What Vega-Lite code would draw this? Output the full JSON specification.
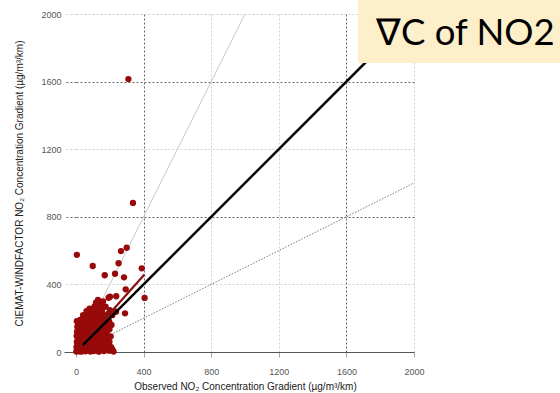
{
  "$schema": "https://vega.github.io/schema/vega-lite/v6.json",
  "width": 338,
  "height": 338,
  "autosize": "none",
  "padding": {"left": 76, "top": 14, "right": 146, "bottom": 41},
  "background": "white",
  "config": {"view": {"stroke": null}, "font": "Liberation Sans"},
  "datasets": {
    "points": [
      {"x": 310, "y": 1615}, {"x": 337, "y": 882}, {"x": 5, "y": 575}, {"x": 99, "y": 509},
      {"x": 300, "y": 617}, {"x": 266, "y": 597}, {"x": 252, "y": 525}, {"x": 170, "y": 454},
      {"x": 231, "y": 463}, {"x": 284, "y": 442}, {"x": 389, "y": 495}, {"x": 294, "y": 371},
      {"x": 406, "y": 320}, {"x": 201, "y": 327}, {"x": 238, "y": 330}, {"x": 290, "y": 229},
      {"x": 207, "y": 12}, {"x": 193, "y": 321}, {"x": 144, "y": 288}, {"x": 132, "y": 254},
      {"x": 237, "y": 238}, {"x": 168, "y": 91}, {"x": 187, "y": 130}, {"x": 142, "y": 53},
      {"x": 2, "y": 3}, {"x": 8, "y": 12}, {"x": 15, "y": 5}, {"x": 22, "y": 18}, {"x": 30, "y": 2},
      {"x": 38, "y": 10}, {"x": 45, "y": 20}, {"x": 55, "y": 4}, {"x": 62, "y": 15}, {"x": 70, "y": 8},
      {"x": 78, "y": 22}, {"x": 85, "y": 3}, {"x": 95, "y": 12}, {"x": 105, "y": 6}, {"x": 115, "y": 18},
      {"x": 125, "y": 9}, {"x": 135, "y": 2}, {"x": 150, "y": 14}, {"x": 165, "y": 6}, {"x": 180, "y": 20},
      {"x": 195, "y": 8}, {"x": 215, "y": 15}, {"x": 222, "y": 3},
      {"x": 3, "y": 30}, {"x": 10, "y": 45}, {"x": 18, "y": 28}, {"x": 26, "y": 40}, {"x": 35, "y": 33},
      {"x": 42, "y": 48}, {"x": 50, "y": 27}, {"x": 58, "y": 42}, {"x": 66, "y": 35}, {"x": 74, "y": 50},
      {"x": 82, "y": 30}, {"x": 90, "y": 44}, {"x": 98, "y": 38}, {"x": 108, "y": 26}, {"x": 118, "y": 47},
      {"x": 128, "y": 33}, {"x": 140, "y": 42}, {"x": 155, "y": 30}, {"x": 172, "y": 45}, {"x": 190, "y": 36},
      {"x": 208, "y": 28},
      {"x": 5, "y": 60}, {"x": 12, "y": 75}, {"x": 20, "y": 58}, {"x": 28, "y": 70}, {"x": 36, "y": 64},
      {"x": 44, "y": 80}, {"x": 52, "y": 57}, {"x": 60, "y": 72}, {"x": 68, "y": 62}, {"x": 76, "y": 78},
      {"x": 84, "y": 55}, {"x": 92, "y": 68}, {"x": 100, "y": 75}, {"x": 110, "y": 60}, {"x": 122, "y": 73},
      {"x": 134, "y": 58}, {"x": 148, "y": 70}, {"x": 162, "y": 64}, {"x": 178, "y": 76}, {"x": 198, "y": 60},
      {"x": 4, "y": 95}, {"x": 14, "y": 88}, {"x": 22, "y": 105}, {"x": 32, "y": 92}, {"x": 40, "y": 100},
      {"x": 48, "y": 86}, {"x": 57, "y": 108}, {"x": 65, "y": 95}, {"x": 73, "y": 90}, {"x": 81, "y": 104},
      {"x": 90, "y": 87}, {"x": 99, "y": 98}, {"x": 107, "y": 110}, {"x": 117, "y": 92}, {"x": 128, "y": 102},
      {"x": 140, "y": 88}, {"x": 152, "y": 106}, {"x": 166, "y": 96}, {"x": 183, "y": 100}, {"x": 205, "y": 92},
      {"x": 6, "y": 120}, {"x": 16, "y": 132}, {"x": 25, "y": 118}, {"x": 34, "y": 138}, {"x": 43, "y": 125},
      {"x": 52, "y": 115}, {"x": 61, "y": 135}, {"x": 70, "y": 122}, {"x": 79, "y": 140}, {"x": 88, "y": 118},
      {"x": 97, "y": 130}, {"x": 106, "y": 125}, {"x": 116, "y": 138}, {"x": 126, "y": 118}, {"x": 138, "y": 132},
      {"x": 150, "y": 122}, {"x": 164, "y": 136}, {"x": 180, "y": 120}, {"x": 198, "y": 134},
      {"x": 8, "y": 150}, {"x": 18, "y": 165}, {"x": 28, "y": 148}, {"x": 39, "y": 160}, {"x": 50, "y": 155},
      {"x": 60, "y": 170}, {"x": 70, "y": 148}, {"x": 80, "y": 162}, {"x": 90, "y": 155}, {"x": 100, "y": 168},
      {"x": 110, "y": 150}, {"x": 121, "y": 164}, {"x": 133, "y": 158}, {"x": 145, "y": 170}, {"x": 158, "y": 150},
      {"x": 172, "y": 165}, {"x": 188, "y": 155}, {"x": 210, "y": 160},
      {"x": 5, "y": 182}, {"x": 24, "y": 190}, {"x": 36, "y": 178}, {"x": 48, "y": 190}, {"x": 60, "y": 182},
      {"x": 72, "y": 198}, {"x": 84, "y": 176}, {"x": 96, "y": 192}, {"x": 108, "y": 185}, {"x": 120, "y": 200},
      {"x": 132, "y": 178}, {"x": 146, "y": 194}, {"x": 160, "y": 186}, {"x": 176, "y": 198}, {"x": 196, "y": 182},
      {"x": 42, "y": 218}, {"x": 55, "y": 208}, {"x": 70, "y": 230}, {"x": 85, "y": 215},
      {"x": 100, "y": 228}, {"x": 112, "y": 210}, {"x": 126, "y": 235}, {"x": 140, "y": 218}, {"x": 155, "y": 230},
      {"x": 170, "y": 212}, {"x": 190, "y": 226}, {"x": 215, "y": 218},
      {"x": 62, "y": 242}, {"x": 80, "y": 256}, {"x": 95, "y": 250}, {"x": 110, "y": 270}, {"x": 125, "y": 262},
      {"x": 140, "y": 280}, {"x": 155, "y": 255}, {"x": 175, "y": 268}, {"x": 200, "y": 248},
      {"x": 118, "y": 292}, {"x": 130, "y": 308}, {"x": 160, "y": 300}
    ],
    "lines": [
      {"line": "one_to_one", "x": 40, "y": 40, "x2": 2000, "y2": 2000},
      {"line": "two_to_one", "x": 0, "y": 0, "x2": 1000, "y2": 2000},
      {"line": "one_to_two", "x": 0, "y": 0, "x2": 2000, "y2": 1000},
      {"line": "fit", "x": 20, "y": 27, "x2": 405, "y2": 458}
    ],
    "badge": [
      {"label": "∇C of NO2", "x": 1669, "x2": 3000, "y": 1710, "y2": 2300, "tx": 1775, "ty": 1817}
    ]
  },
  "layer": [
    {
      "data": {"name": "lines"},
      "transform": [{"filter": "datum.line === 'two_to_one'"}],
      "mark": {"type": "rule", "color": "#c8c8c8", "strokeWidth": 1},
      "encoding": {
        "x": {
          "field": "x", "type": "quantitative",
          "scale": {"domain": [0, 2000], "nice": false},
          "axis": {
            "values": [0, 200, 400, 600, 800, 1000, 1200, 1400, 1600, 1800, 2000],
            "format": "d",
            "labelExpr": "datum.value % 400 === 0 ? datum.label : ''",
            "labelFlush": false,
            "labelOverlap": false,
            "title": "Observed NO₂ Concentration Gradient (µg/m³/km)",
            "titleFont": "Liberation Sans", "titleFontSize": 10, "titleFontWeight": "normal",
            "titleColor": "#222", "titlePadding": 5,
            "labelFont": "Liberation Sans", "labelFontSize": 9, "labelColor": "#555",
            "labelPadding": 10,
            "domainColor": "#555", "domainWidth": 1,
            "tickSize": 5, "tickColor": "#aaa",
            "grid": true, "gridDash": [2, 2],
            "gridColor": {"condition": {"test": "datum.value === 400 || datum.value === 1600", "value": "#666"}, "value": "#cfcfcf"},
            "gridOpacity": {"condition": {"test": "datum.value % 400 === 0 && datum.value > 0", "value": 1}, "value": 0}
          }
        },
        "y": {
          "field": "y", "type": "quantitative",
          "scale": {"domain": [0, 2000], "nice": false},
          "axis": {
            "values": [0, 200, 400, 600, 800, 1000, 1200, 1400, 1600, 1800, 2000],
            "format": "d",
            "labelExpr": "datum.value % 400 === 0 ? datum.label : ''",
            "labelFlush": false,
            "labelOverlap": false,
            "title": "CIEMAT-WINDFACTOR NO₂ Concentration Gradient (µg/m³/km)",
            "titleFont": "Liberation Sans", "titleFontSize": 10, "titleFontWeight": "normal",
            "titleColor": "#222", "titlePadding": 16,
            "labelFont": "Liberation Sans", "labelFontSize": 9, "labelColor": "#555",
            "labelPadding": 3,
            "domain": false,
            "tickSize": 12,
            "tickColor": {"condition": [
              {"test": "datum.value === 0", "value": "#555"},
              {"test": "datum.value === 800 || datum.value === 1600", "value": "#666"},
              {"test": "datum.value % 400 === 0", "value": "#cfcfcf"}
            ], "value": "#aaa"},
            "tickDash": {"condition": {"test": "datum.value % 400 === 0 && datum.value > 0", "value": [2, 2]}, "value": []},
            "grid": true, "gridDash": [2, 2],
            "gridColor": {"condition": {"test": "datum.value === 800 || datum.value === 1600", "value": "#666"}, "value": "#cfcfcf"},
            "gridOpacity": {"condition": {"test": "datum.value % 400 === 0 && datum.value > 0", "value": 1}, "value": 0}
          }
        },
        "x2": {"field": "x2"},
        "y2": {"field": "y2"}
      }
    },
    {
      "data": {"name": "lines"},
      "transform": [{"filter": "datum.line === 'one_to_two'"}],
      "mark": {"type": "rule", "color": "#555", "strokeWidth": 0.8, "strokeDash": [1.5, 1.5]},
      "encoding": {
        "x": {"field": "x", "type": "quantitative"},
        "y": {"field": "y", "type": "quantitative"},
        "x2": {"field": "x2"},
        "y2": {"field": "y2"}
      }
    },
    {
      "data": {"name": "points"},
      "mark": {"type": "circle", "color": "#980a0a", "opacity": 1, "size": 40},
      "encoding": {
        "x": {"field": "x", "type": "quantitative"},
        "y": {"field": "y", "type": "quantitative"}
      }
    },
    {
      "data": {"name": "lines"},
      "transform": [{"filter": "datum.line === 'fit'"}],
      "mark": {"type": "rule", "color": "#8c1010", "strokeWidth": 2.2},
      "encoding": {
        "x": {"field": "x", "type": "quantitative"},
        "y": {"field": "y", "type": "quantitative"},
        "x2": {"field": "x2"},
        "y2": {"field": "y2"}
      }
    },
    {
      "data": {"name": "lines"},
      "transform": [{"filter": "datum.line === 'one_to_one'"}],
      "mark": {"type": "rule", "color": "#000", "strokeWidth": 2.5},
      "encoding": {
        "x": {"field": "x", "type": "quantitative"},
        "y": {"field": "y", "type": "quantitative"},
        "x2": {"field": "x2"},
        "y2": {"field": "y2"}
      }
    },
    {
      "data": {"name": "badge"},
      "mark": {"type": "rect", "color": "#fdefca", "clip": false},
      "encoding": {
        "x": {"field": "x", "type": "quantitative"},
        "x2": {"field": "x2"},
        "y": {"field": "y", "type": "quantitative"},
        "y2": {"field": "y2"}
      }
    },
    {
      "data": {"name": "badge"},
      "mark": {"type": "text", "font": "Lato", "fontSize": 36.5, "color": "#000", "align": "left", "baseline": "alphabetic", "clip": false},
      "encoding": {
        "x": {"field": "tx", "type": "quantitative"},
        "y": {"field": "ty", "type": "quantitative"},
        "text": {"field": "label"}
      }
    }
  ]
}
